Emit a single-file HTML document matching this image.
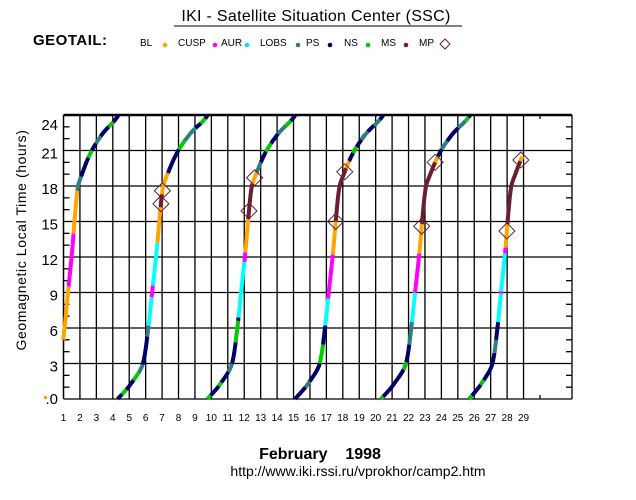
<!DOCTYPE html>
<html><head><meta charset="utf-8">
<style>
html,body{margin:0;padding:0;background:#fff;}
svg{display:block;}
text{font-family:"Liberation Sans",sans-serif;}
</style></head>
<body>
<svg id="s" width="636" height="500" viewBox="0 0 636 500" xmlns="http://www.w3.org/2000/svg">
<text x="316" y="21" font-size="16" text-anchor="middle" letter-spacing="0.3">IKI - Satellite Situation Center (SSC)</text>
<line x1="174" y1="26" x2="462" y2="26" stroke="#000" stroke-width="1"/>
<text x="33" y="45" font-size="15" font-weight="bold" letter-spacing="0.5">GEOTAIL:</text>
<g font-size="10">
<text x="140" y="46">BL</text><circle cx="165" cy="45" r="2.3" fill="#ffa500"/>
<text x="178" y="46">CUSP</text><circle cx="215" cy="45" r="2.3" fill="#ff00ff"/>
<text x="221" y="46">AUR</text><circle cx="247" cy="45" r="2.3" fill="#00e5ee"/>
<text x="260" y="46">LOBS</text><circle cx="298" cy="45" r="2.3" fill="#2f7f7f"/>
<text x="306" y="46">PS</text><circle cx="330" cy="45" r="2.3" fill="#000066"/>
<text x="344" y="46">NS</text><circle cx="368" cy="45" r="2.3" fill="#00cc00"/>
<text x="381" y="46">MS</text><circle cx="406" cy="45" r="2.3" fill="#6b1e2e"/>
<text x="419" y="46">MP</text>
<path d="M445,39 L450,44 L445,49 L440,44 Z" fill="none" stroke="#6b1e2e" stroke-width="1"/>
</g>
<g id="grid" stroke="#000" stroke-width="1.3"></g>
<g id="curves"></g>
<g id="marks" fill="none" stroke="#6b1e2e" stroke-width="1"></g>
<text transform="translate(26,240) rotate(-90)" font-size="14" text-anchor="middle" letter-spacing="0.6">Geomagnetic Local Time (hours)</text>
<g id="ylab" font-size="15" text-anchor="end"></g>
<g id="xlab" font-size="10" text-anchor="middle"></g>
<rect x="44" y="396" width="3" height="3" fill="#ffa500"/>
<text x="320" y="459" font-size="16" font-weight="bold" text-anchor="middle" xml:space="preserve">February    1998</text>
<text x="358" y="476" font-size="14" text-anchor="middle">http://www.iki.rssi.ru/vprokhor/camp2.htm</text>
</svg>
<script>
var NS="http://www.w3.org/2000/svg";
function el(p,t,a){var e=document.createElementNS(NS,t);for(var k in a)e.setAttribute(k,a[k]);p.appendChild(e);return e;}
var L=63.5,R=572,T=115,B=399,dd=16.43,hp=(B-T)/24;
function Y(lt){return B-lt*hp;}
var g=document.getElementById('grid');
for(var d=1;d<=29;d++){var x=L+(d-1)*dd;el(g,'line',{x1:x,y1:T,x2:x,y2:B});}
var x30=L+29*dd;el(g,'line',{x1:x30,y1:T,x2:x30,y2:T+4});el(g,'line',{x1:x30,y1:B,x2:x30,y2:B-4});
for(var h=3;h<24;h+=3){el(g,'line',{x1:L,y1:Y(h),x2:R,y2:Y(h)});}
for(var h=1;h<24;h++){if(h%3){el(g,'line',{x1:L,y1:Y(h),x2:L+6,y2:Y(h)});el(g,'line',{x1:R,y1:Y(h),x2:R-6,y2:Y(h)});}}
el(g,'line',{x1:L,y1:T,x2:L,y2:B});el(g,'line',{x1:R,y1:T,x2:R,y2:B});
el(g,'line',{x1:L,y1:B,x2:R,y2:B});el(g,'line',{x1:L,y1:T,x2:R,y2:T,'stroke-width':2.5});
var yl=document.getElementById('ylab');
for(var h=3;h<=24;h+=3){var t=el(yl,'text',{x:58,y:(h==24?Y(h)+15:Y(h)+8)});t.textContent=h;}
var t0=el(yl,'text',{x:58,y:Y(0)+5});t0.textContent='.0';
var xl=document.getElementById('xlab');
for(var d=1;d<=29;d++){var t=el(xl,'text',{x:L+(d-1)*dd,y:421});t.textContent=d;}
var SL=[0,1.18,3.03,5.8,8.9,12.8,15.7,17.9,19.1,20.8,22.4,23.9,24.2];
var SD=[0,12.3,25.3,30.3,34.3,39.3,42.3,45.3,50.3,59.3,72.3,89.3,91];
var n=SL.length,del=[],m=[];
for(var i=0;i<n-1;i++)del.push((SD[i+1]-SD[i])/(SL[i+1]-SL[i]));
m[0]=del[0];m[n-1]=del[n-2];
for(var i=1;i<n-1;i++){m[i]=(del[i-1]*del[i]<=0)?0:2/(1/del[i-1]+1/del[i]);}
function dx(lt){if(lt<=0)return 0;for(var i=1;i<n;i++){if(lt<=SL[i]){var h=SL[i]-SL[i-1],t=(lt-SL[i-1])/h,t2=t*t,t3=t2*t;
return (2*t3-3*t2+1)*SD[i-1]+(t3-2*t2+t)*h*m[i-1]+(-2*t3+3*t2)*SD[i]+(t3-t2)*h*m[i];}}return SD[n-1];}
var N='#000066',Te='#2f7f7f',G='#00cc00',C='#00ffff',M='#ff00ff',O='#ffa500',Mr='#6b1e2e';
var orbits=[
{x0:36.8,k:0.907,s:[[5,9.5,O],[9.5,14,M],[14,17.6,O],[17.6,18.8,Te],[18.8,20.4,N],[20.4,21,G],[21,21.6,N],[21.6,22.2,Te],[22.2,23,N],[23,23.4,G],[23.4,24,N]]},
{x0:117.7,k:1,s:[[0,0.4,N],[0.4,0.8,G],[0.8,1.6,N],[1.6,2.2,G],[2.2,2.9,Te],[2.9,5.3,N],[5.3,6.2,Te],[6.2,8.6,C],[8.6,9.6,M],[9.6,13.2,C],[13.2,16.2,O],[16.2,17.3,Mr],[17.3,19.1,O],[19.1,20.6,N],[20.6,21.1,N],[21.1,21.8,G],[21.8,22.9,Te],[22.9,23.3,N],[23.3,23.7,G],[23.7,24,N]]},
{x0:207.5,k:0.975,s:[[0,0.3,G],[0.3,1.1,N],[1.1,1.4,G],[1.4,2.3,N],[2.3,3,Te],[3,4.8,N],[4.8,6.6,G],[6.6,6.9,N],[6.9,11.6,C],[11.6,12.4,M],[12.4,15.2,O],[15.2,18.2,Mr],[18.2,19.1,O],[19.1,20,Te],[20,20.9,N],[20.9,21.6,G],[21.6,22.4,N],[22.4,23.1,Te],[23.1,23.5,G],[23.5,24,N]]},
{x0:295,k:0.98,s:[[0,1,N],[1,1.5,Te],[1.5,3,N],[3,4.6,G],[4.6,6.2,N],[6.2,8.5,C],[8.5,12.2,M],[12.2,15,O],[15,19.5,Mr],[19.5,20.1,O],[20.1,20.8,N],[20.8,21.3,G],[21.3,21.9,N],[21.9,22.6,Te],[22.6,23.1,N],[23.1,23.6,Te],[23.6,24,N]]},
{x0:381,k:0.99,s:[[0,0.2,G],[0.2,2.5,N],[2.5,3.1,G],[3.1,4.6,N],[4.6,6.5,Te],[6.5,9,C],[9,12.3,M],[12.3,14.8,O],[14.8,20,Mr],[20,20.5,O],[20.5,21.1,N],[21.1,21.8,Te],[21.8,22.9,N],[22.9,23.5,Te],[23.5,23.8,G],[23.8,24,N]]},
{x0:469,k:0.93,s:[[0,0.3,G],[0.3,1.2,N],[1.2,1.6,G],[1.6,3.9,N],[3.9,5,Te],[5,6.5,N],[6.5,8.9,C],[8.9,9.1,M],[9.1,12.3,C],[12.3,12.8,M],[12.8,14.8,O],[14.8,20.1,Mr],[20.1,20.5,O]]}
];
var cg=document.getElementById('curves');
function X(o,lt){return o.x0+o.k*dx(lt);}
orbits.forEach(function(o){o.s.forEach(function(s){var pts=[];for(var lt=s[0];lt<=s[1]+1e-6;lt+=0.05){pts.push(X(o,lt).toFixed(1)+','+Y(lt).toFixed(1));}
pts.push(X(o,s[1]).toFixed(1)+','+Y(s[1]).toFixed(1));
el(cg,'polyline',{points:pts.join(' '),fill:'none',stroke:s[2],'stroke-width':4,'stroke-linecap':'butt'});});});
var mg=document.getElementById('marks');
[[1,16.5],[1,17.6],[2,15.9],[2,18.7],[3,19.2],[3,15.0],[4,20.0],[4,14.6],[5,20.2],[5,14.2]].forEach(function(p){
var o=orbits[p[0]],x=X(o,p[1]),y=Y(p[1]);
el(mg,'path',{d:'M'+x+','+(y-8)+' L'+(x+8)+','+y+' L'+x+','+(y+8)+' L'+(x-8)+','+y+' Z'});});
</script>
</body></html>
